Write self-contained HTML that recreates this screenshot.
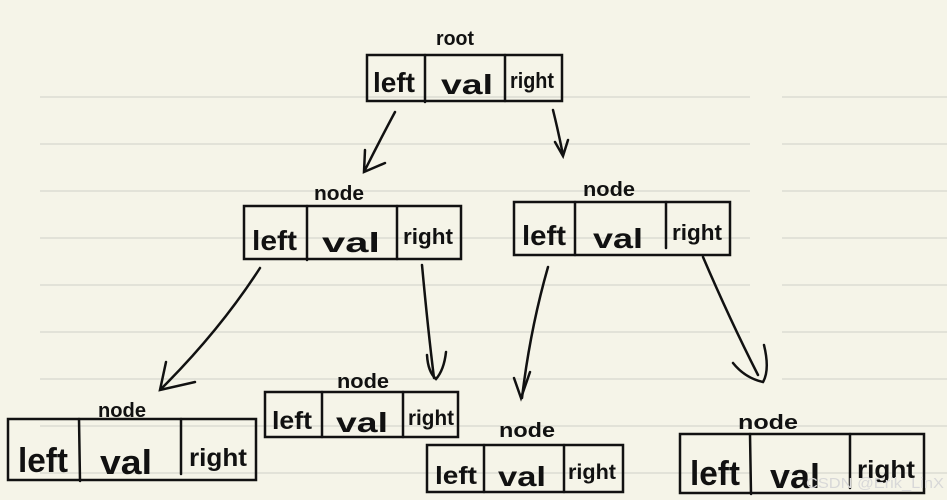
<!DOCTYPE html>
<html><head><meta charset="utf-8"><style>
html,body{margin:0;padding:0;background:#f5f4e8;}
svg{display:block}
text{font-family:"Liberation Sans Narrow","Liberation Sans",sans-serif;fill:#111;font-weight:bold;}
</style></head><body>
<svg width="947" height="500" viewBox="0 0 947 500" xmlns="http://www.w3.org/2000/svg">
<rect width="947" height="500" fill="#f5f4e8"/>
<g stroke="#dcdcd2" stroke-width="1.5">
<line x1="40" y1="97" x2="750" y2="97"/><line x1="782" y1="97" x2="947" y2="97"/>
<line x1="40" y1="144" x2="750" y2="144"/><line x1="782" y1="144" x2="947" y2="144"/>
<line x1="40" y1="191" x2="750" y2="191"/><line x1="782" y1="191" x2="947" y2="191"/>
<line x1="40" y1="238" x2="750" y2="238"/><line x1="782" y1="238" x2="947" y2="238"/>
<line x1="40" y1="285" x2="750" y2="285"/><line x1="782" y1="285" x2="947" y2="285"/>
<line x1="40" y1="332" x2="750" y2="332"/><line x1="782" y1="332" x2="947" y2="332"/>
<line x1="40" y1="379" x2="750" y2="379"/><line x1="782" y1="379" x2="947" y2="379"/>
<line x1="40" y1="426" x2="750" y2="426"/><line x1="782" y1="426" x2="947" y2="426"/>
<line x1="40" y1="473" x2="750" y2="473"/><line x1="782" y1="473" x2="947" y2="473"/>
</g>
<g fill="none" stroke="#111" stroke-width="2.5" stroke-linecap="round">
<rect x="367" y="55" width="195" height="46"/><line x1="425" y1="55" x2="425" y2="102"/><line x1="505" y1="55" x2="505" y2="101"/>
<rect x="244" y="206" width="217" height="53"/><line x1="307" y1="206" x2="307" y2="260"/><line x1="397" y1="206" x2="397" y2="259"/>
<rect x="514" y="202" width="216" height="53"/><line x1="575" y1="202" x2="575" y2="255"/><line x1="666" y1="202" x2="666" y2="248"/>
<rect x="8" y="419" width="248" height="61"/><line x1="79" y1="419" x2="80" y2="481"/><line x1="181" y1="419" x2="181" y2="474"/>
<rect x="265" y="392" width="193" height="45"/><line x1="322" y1="392" x2="322" y2="437"/><line x1="403" y1="392" x2="403" y2="437"/>
<rect x="427" y="445" width="196" height="47"/><line x1="484" y1="445" x2="484" y2="492"/><line x1="564" y1="445" x2="564" y2="492"/>
<rect x="680" y="434" width="244" height="59"/><line x1="750" y1="434" x2="751" y2="494"/><line x1="850" y1="434" x2="850" y2="488"/>
<path d="M395 112 Q380 140 365 170"/><path d="M365 150 L364 172 L385 163"/>
<path d="M553 110 Q558 130 563 155"/><path d="M555 142 L563 156 L568 140"/>
<path d="M260 268 Q220 330 162 388"/><path d="M166 362 L160 390 L195 382"/>
<path d="M422 265 Q428 330 434 378"/><path d="M427 355 Q428 372 436 379 Q444 370 446 352"/>
<path d="M548 267 Q530 330 522 398"/><path d="M514 378 L521 398 L530 372"/>
<path d="M703 257 Q730 320 758 375"/><path d="M733 363 Q745 378 763 382 Q770 370 764 345"/>
</g>
<g font-size="28">
<text x="373" y="92" textLength="42" lengthAdjust="spacingAndGlyphs">left</text>
<text x="441" y="94" textLength="52" lengthAdjust="spacingAndGlyphs">val</text>
<text x="510" y="88" font-size="22" textLength="44" lengthAdjust="spacingAndGlyphs">right</text>
<text x="252" y="250" textLength="45" lengthAdjust="spacingAndGlyphs">left</text>
<text x="322" y="252" textLength="58" lengthAdjust="spacingAndGlyphs">val</text>
<text x="403" y="244" font-size="22" textLength="50" lengthAdjust="spacingAndGlyphs">right</text>
<text x="522" y="245" textLength="44" lengthAdjust="spacingAndGlyphs">left</text>
<text x="593" y="248" textLength="50" lengthAdjust="spacingAndGlyphs">val</text>
<text x="672" y="240" font-size="22" textLength="50" lengthAdjust="spacingAndGlyphs">right</text>
<text x="18" y="472" font-size="34" textLength="50" lengthAdjust="spacingAndGlyphs">left</text>
<text x="100" y="474" font-size="34" textLength="52" lengthAdjust="spacingAndGlyphs">val</text>
<text x="189" y="466" font-size="25" textLength="58" lengthAdjust="spacingAndGlyphs">right</text>
<text x="272" y="429" font-size="25" textLength="40" lengthAdjust="spacingAndGlyphs">left</text>
<text x="336" y="432" textLength="52" lengthAdjust="spacingAndGlyphs">val</text>
<text x="408" y="425" font-size="21" textLength="46" lengthAdjust="spacingAndGlyphs">right</text>
<text x="435" y="484" font-size="25" textLength="42" lengthAdjust="spacingAndGlyphs">left</text>
<text x="498" y="486" textLength="48" lengthAdjust="spacingAndGlyphs">val</text>
<text x="568" y="479" font-size="21" textLength="48" lengthAdjust="spacingAndGlyphs">right</text>
<text x="690" y="485" font-size="34" textLength="50" lengthAdjust="spacingAndGlyphs">left</text>
<text x="770" y="488" font-size="34" textLength="50" lengthAdjust="spacingAndGlyphs">val</text>
<text x="857" y="478" font-size="25" textLength="58" lengthAdjust="spacingAndGlyphs">right</text>
</g>
<g font-size="20">
<text x="436" y="45" textLength="38" lengthAdjust="spacingAndGlyphs">root</text>
<text x="314" y="200" textLength="50" lengthAdjust="spacingAndGlyphs">node</text>
<text x="583" y="196" textLength="52" lengthAdjust="spacingAndGlyphs">node</text>
<text x="98" y="417" textLength="48" lengthAdjust="spacingAndGlyphs">node</text>
<text x="337" y="388" textLength="52" lengthAdjust="spacingAndGlyphs">node</text>
<text x="499" y="437" textLength="56" lengthAdjust="spacingAndGlyphs">node</text>
<text x="738" y="429" textLength="60" lengthAdjust="spacingAndGlyphs">node</text>
</g>
<text x="806" y="488" font-size="15" style="fill:#d8d8d8;font-weight:normal" textLength="138" lengthAdjust="spacingAndGlyphs">CSDN @Erik_LinX</text>
</svg>
</body></html>
